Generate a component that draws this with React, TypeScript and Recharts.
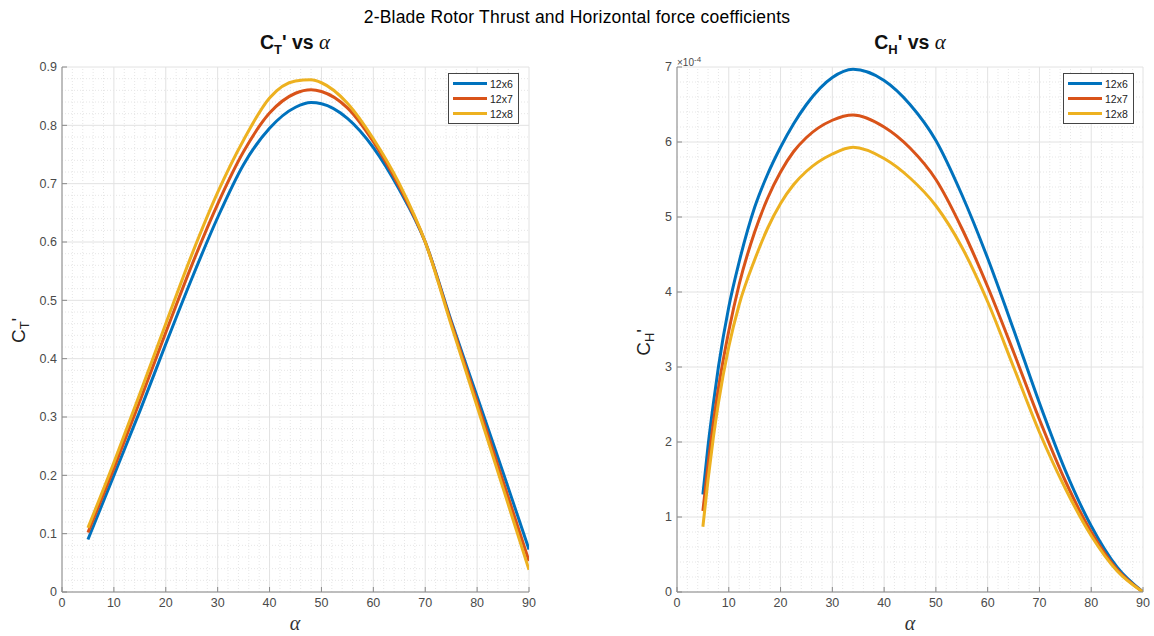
import React from 'react'
import { CartesianGrid, Line, LineChart, ReferenceLine, XAxis, YAxis } from 'recharts'

// thrust coefficient
const alphaT = [5, 10, 15, 20, 25, 30, 35, 40, 45, 48, 50, 55, 60, 65, 70, 75, 80, 85, 90]
const ct12x6 = [0.09, 0.2, 0.31, 0.425, 0.537, 0.642, 0.733, 0.795, 0.831, 0.839, 0.837, 0.812, 0.762, 0.69, 0.6, 0.465, 0.335, 0.205, 0.073]
const ct12x7 = [0.102, 0.212, 0.327, 0.445, 0.56, 0.665, 0.755, 0.821, 0.855, 0.861, 0.858, 0.83, 0.772, 0.695, 0.6, 0.462, 0.326, 0.19, 0.053]
const ct12x8 = [0.11, 0.222, 0.34, 0.46, 0.578, 0.685, 0.775, 0.847, 0.876, 0.878, 0.873, 0.838, 0.777, 0.7, 0.6, 0.458, 0.318, 0.178, 0.038]

// horizontal force coefficient, in units of 1e-4
const alphaH = [5, 6, 7, 8, 10, 12, 15, 17.5, 20, 22.5, 25, 30, 34, 40, 45, 50, 55, 60, 65, 70, 75, 80, 85, 90]
const ch12x6 = [1.3, 1.95, 2.5, 3.0, 3.8, 4.4, 5.13, 5.57, 5.93, 6.24, 6.5, 6.86, 6.97, 6.82, 6.5, 6.02, 5.3, 4.45, 3.5, 2.52, 1.62, 0.88, 0.33, 0]
const ch12x7 = [1.08, 1.7, 2.25, 2.72, 3.48, 4.1, 4.8, 5.25, 5.6, 5.87, 6.06, 6.29, 6.36, 6.2, 5.92, 5.5, 4.85, 4.07, 3.2, 2.3, 1.48, 0.8, 0.3, 0]
const ch12x8 = [0.87, 1.5, 2.05, 2.52, 3.27, 3.83, 4.43, 4.85, 5.18, 5.43, 5.61, 5.84, 5.93, 5.78, 5.52, 5.15, 4.6, 3.87, 3.0, 2.13, 1.38, 0.75, 0.28, 0]

const xTicks = [0, 10, 20, 30, 40, 50, 60, 70, 80, 90]
const xMinor = [2, 4, 6, 8, 12, 14, 16, 18, 22, 24, 26, 28, 32, 34, 36, 38, 42, 44, 46, 48, 52, 54, 56, 58, 62, 64, 66, 68, 72, 74, 76, 78, 82, 84, 86, 88]
const ctTicks = [0, 0.1, 0.2, 0.3, 0.4, 0.5, 0.6, 0.7, 0.8, 0.9]
const ctMinor = [0.02, 0.04, 0.06, 0.08, 0.12, 0.14, 0.16, 0.18, 0.22, 0.24, 0.26, 0.28, 0.32, 0.34, 0.36, 0.38, 0.42, 0.44, 0.46, 0.48, 0.52, 0.54, 0.56, 0.58, 0.62, 0.64, 0.66, 0.68, 0.72, 0.74, 0.76, 0.78, 0.82, 0.84, 0.86, 0.88]
const chTicks = [0, 1, 2, 3, 4, 5, 6, 7]
const chMinor = [0.2, 0.4, 0.6, 0.8, 1.2, 1.4, 1.6, 1.8, 2.2, 2.4, 2.6, 2.8, 3.2, 3.4, 3.6, 3.8, 4.2, 4.4, 4.6, 4.8, 5.2, 5.4, 5.6, 5.8, 6.2, 6.4, 6.6, 6.8]

const seriesNames = ['12x6', '12x7', '12x8']
const colors = ['#0072BD', '#D95319', '#EDB120']

const ctRows = alphaT.map((a, i) => ({ a, s0: ct12x6[i], s1: ct12x7[i], s2: ct12x8[i] }))
const chRows = alphaH.map((a, i) => ({ a, s0: ch12x6[i], s1: ch12x7[i], s2: ch12x8[i] }))

const FONT = '"Liberation Sans", Arial, Helvetica, sans-serif'
const SERIF = '"Liberation Serif", "DejaVu Serif", serif'
const AXIS = '#8a8a8a'
const tickStyle = { fontSize: 12.5, fill: '#4a4a4a', fontFamily: FONT }

function LegendBox({ left }: { left: number }) {
  return (
    <div style={{ position: 'absolute', left, top: 73, border: '1px solid #444', background: '#fff', padding: '2px 5px 2px 4px', fontFamily: FONT, fontSize: 10.5, color: '#222' }}>
      {seriesNames.map((n, i) => (
        <div key={n} style={{ display: 'flex', alignItems: 'center', height: 15 }}>
          <span style={{ display: 'inline-block', width: 34, height: 3, background: colors[i], marginRight: 3 }} />
          <span>{n}</span>
        </div>
      ))}
    </div>
  )
}

function Panel({ rows, yTicks, yMinor, yMax, margin }: any) {
  return (
    <LineChart width={577} height={636} data={rows} margin={margin}>
      <CartesianGrid stroke="#e2e2e2" strokeWidth={1} />
      {xMinor.map(v => (
        <ReferenceLine key={'x' + v} x={v} stroke="#e6e6e6" strokeDasharray="1 2" ifOverflow="hidden" />
      ))}
      {yMinor.map((v: number) => (
        <ReferenceLine key={'y' + v} y={v} stroke="#e6e6e6" strokeDasharray="1 2" ifOverflow="hidden" />
      ))}
      <XAxis dataKey="a" type="number" domain={[0, 90]} ticks={xTicks} allowDataOverflow
        height={30} stroke={AXIS} tick={tickStyle} tickSize={-5} tickMargin={11} />
      <XAxis xAxisId="top" orientation="top" dataKey="a" type="number" domain={[0, 90]} ticks={xTicks}
        height={0} stroke={AXIS} tick={false} tickSize={-5} />
      <YAxis type="number" domain={[0, yMax]} ticks={yTicks} allowDataOverflow width={40}
        stroke={AXIS} tick={tickStyle} tickSize={-5} tickMargin={10} />
      <YAxis yAxisId="right" orientation="right" type="number" domain={[0, yMax]} ticks={yTicks}
        width={0} stroke={AXIS} tick={false} tickSize={-5} />
      {seriesNames.map((n, i) => (
        <Line key={n} name={n} dataKey={'s' + i} type="monotone" stroke={colors[i]} strokeWidth={3}
          dot={false} isAnimationActive={false} />
      ))}
    </LineChart>
  )
}

const titleStyle: React.CSSProperties = { position: 'absolute', width: 200, top: 30, textAlign: 'center', fontWeight: 'bold', fontSize: 19.5, color: '#111' }
const alphaTitle: React.CSSProperties = { fontFamily: SERIF, fontStyle: 'italic', fontWeight: 'normal', fontSize: 21 }
const yLabel: React.CSSProperties = { position: 'absolute', width: 100, textAlign: 'center', fontSize: 19, color: '#222', transform: 'rotate(-90deg)' }
const xLabel: React.CSSProperties = { position: 'absolute', width: 100, top: 612, textAlign: 'center', fontFamily: SERIF, fontStyle: 'italic', fontSize: 20, color: '#333' }

export default function App() {
  return (
    <div style={{ position: 'absolute', left: 0, top: 0, width: 1154, height: 636, background: '#fff', fontFamily: FONT, color: '#000' }}>
      <div style={{ position: 'absolute', left: 0, width: 1154, top: 7, textAlign: 'center', fontSize: 17.5, letterSpacing: 0.2 }}>
        2-Blade Rotor Thrust and Horizontal force coefficients
      </div>

      <div style={{ position: 'absolute', left: 0, top: 0 }}>
        <Panel rows={ctRows} yTicks={ctTicks} yMinor={ctMinor} yMax={0.9}
          margin={{ top: 67, right: 48, bottom: 14, left: 22 }} />
      </div>
      <div style={{ position: 'absolute', left: 577, top: 0 }}>
        <Panel rows={chRows} yTicks={chTicks} yMinor={chMinor} yMax={7}
          margin={{ top: 67, right: 11, bottom: 14, left: 60 }} />
      </div>

      <LegendBox left={448} />
      <LegendBox left={1063} />

      <div style={{ ...titleStyle, left: 195 }}>
        C<sub style={{ fontSize: 13 }}>T</sub>' vs <span style={alphaTitle}>α</span>
      </div>
      <div style={{ ...titleStyle, left: 810 }}>
        C<sub style={{ fontSize: 13 }}>H</sub>' vs <span style={alphaTitle}>α</span>
      </div>

      <div style={{ position: 'absolute', left: 677, top: 55, fontSize: 10, color: '#4a4a4a' }}>
        ×10<sup style={{ fontSize: 8 }}>-4</sup>
      </div>

      <div style={{ ...yLabel, left: -30, top: 318 }}>
        C<sub style={{ fontSize: 13 }}>T</sub>'
      </div>
      <div style={{ ...yLabel, left: 595, top: 330 }}>
        C<sub style={{ fontSize: 13 }}>H</sub>'
      </div>

      <div style={{ ...xLabel, left: 245 }}>α</div>
      <div style={{ ...xLabel, left: 860 }}>α</div>
    </div>
  )
}
